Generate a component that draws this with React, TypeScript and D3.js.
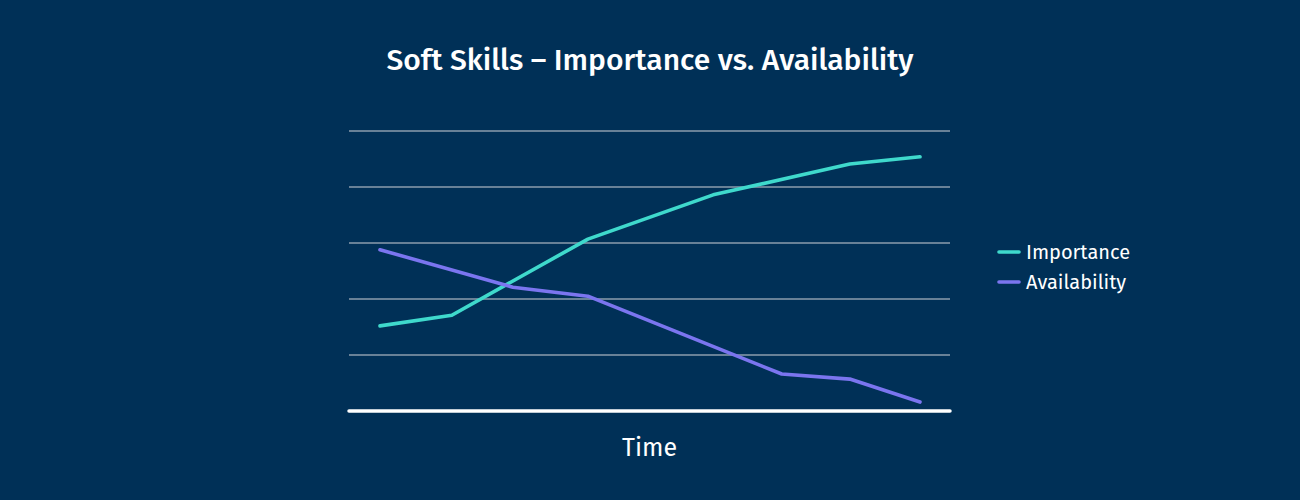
import React, { useEffect, useRef } from "react";
import * as d3 from "d3";

// Values (time in arbitrary units, score 0-5)
const importanceTime = [0, 1.33, 3.85, 6.17, 8.7, 10];
const importanceValues = [1.52, 1.71, 3.07, 3.86, 4.41, 4.54];
const availabilityTime = [0, 2.46, 3.85, 7.44, 8.7, 10];
const availabilityValues = [2.88, 2.21, 2.05, 0.66, 0.57, 0.16];
const gridTicks = [1, 2, 3, 4, 5];
const seriesNames = ["Importance", "Availability"];

const BG = "#003057";
const COLORS = ["#3fd9cc", "#7b75ef"];
const FONT = "'Fira Sans', 'Noto Sans', sans-serif";

const App: React.FC = () => {
  const svgRef = useRef<SVGSVGElement>(null);

  useEffect(() => {
    document.body.style.margin = "0";
    if (!svgRef.current) return;
    const svg = d3.select(svgRef.current);
    svg.selectAll("*").remove();

    const width = 1300;
    const height = 500;
    const plot = { left: 349, right: 950, top: 131, bottom: 411 };

    svg.attr("width", width).attr("height", height);
    svg.append("rect").attr("width", width).attr("height", height).attr("fill", BG);

    const x = d3.scaleLinear().domain([0, 10]).range([plot.left + 31, plot.right - 30]);
    const y = d3.scaleLinear().domain([0, 5]).range([plot.bottom, plot.top]);

    // Title
    svg
      .append("text")
      .attr("x", width / 2)
      .attr("y", 70)
      .attr("text-anchor", "middle")
      .attr("fill", "#ffffff")
      .style("font-family", FONT)
      .style("font-size", "30px")
      .style("font-weight", 500)
      .text("Soft Skills \u2013 Importance vs. Availability");

    // Grid lines
    svg
      .append("g")
      .selectAll("line")
      .data(gridTicks)
      .enter()
      .append("line")
      .attr("x1", plot.left)
      .attr("x2", plot.right)
      .attr("y1", (d) => y(d))
      .attr("y2", (d) => y(d))
      .attr("stroke", "#8b9cad")
      .attr("stroke-width", 1.5);

    // Baseline
    svg
      .append("line")
      .attr("x1", plot.left)
      .attr("x2", plot.right)
      .attr("y1", y(0))
      .attr("y2", y(0))
      .attr("stroke", "#ffffff")
      .attr("stroke-width", 3.5)
      .attr("stroke-linecap", "round");

    const line = d3
      .line<[number, number]>()
      .x((d) => x(d[0]))
      .y((d) => y(d[1]));

    const series: [number, number][][] = [
      importanceTime.map((t, i) => [t, importanceValues[i]]),
      availabilityTime.map((t, i) => [t, availabilityValues[i]]),
    ];

    series.forEach((pts, i) => {
      svg
        .append("path")
        .datum(pts)
        .attr("d", line)
        .attr("fill", "none")
        .attr("stroke", COLORS[i])
        .attr("stroke-width", 3.6)
        .attr("stroke-linecap", "round")
        .attr("stroke-linejoin", "round");
    });

    // X axis label
    svg
      .append("text")
      .attr("x", (plot.left + plot.right) / 2)
      .attr("y", 456)
      .attr("text-anchor", "middle")
      .attr("fill", "#ffffff")
      .style("font-family", FONT)
      .style("font-size", "25px")
      .text("Time");

    // Legend
    const legend = svg.append("g").attr("transform", "translate(998,252)");
    seriesNames.forEach((name, i) => {
      const g = legend.append("g").attr("transform", `translate(0,${i * 30})`);
      g.append("line")
        .attr("x1", 1)
        .attr("x2", 21)
        .attr("stroke", COLORS[i])
        .attr("stroke-width", 3.6)
        .attr("stroke-linecap", "round");
      g.append("text")
        .attr("x", 28)
        .attr("y", 6.5)
        .attr("fill", "#ffffff")
        .style("font-family", FONT)
        .style("font-size", "20px")
        .text(name);
    });
  }, []);

  return <svg ref={svgRef} style={{ display: "block" }}></svg>;
};

export default App;
